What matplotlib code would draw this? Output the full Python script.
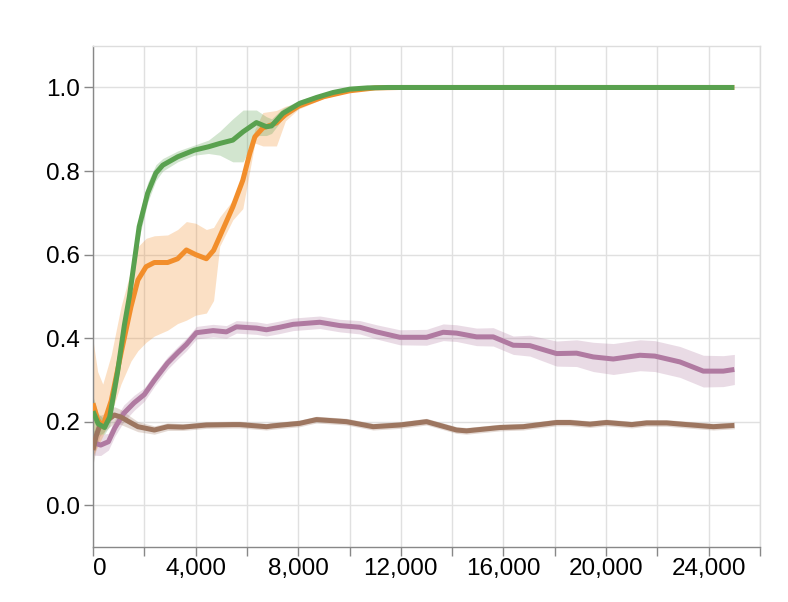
import matplotlib.pyplot as plt
import numpy as np

plt.rcParams['font.family'] = ['Liberation Sans', 'DejaVu Sans']

# green series (line + band bounds)
green_x = [0, 200, 450, 650, 960, 1220, 1420, 1800, 2130, 2450, 2720, 3300, 3950, 4500,
           4940, 5450, 5850, 6370, 6760, 6960, 7400, 8060, 8710, 9360, 10010, 10700, 11500, 25000]
green_y = [0.225, 0.195, 0.186, 0.211, 0.32, 0.43, 0.50, 0.667, 0.747, 0.795, 0.814, 0.834, 0.850, 0.858,
           0.866, 0.874, 0.894, 0.916, 0.906, 0.908, 0.938, 0.962, 0.976, 0.988, 0.996, 0.999, 1.0, 1.0]
green_lo = [0.17, 0.17, 0.17, 0.19, 0.29, 0.40, 0.47, 0.64, 0.725, 0.777, 0.80, 0.822, 0.838, 0.842,
            0.838, 0.822, 0.822, 0.885, 0.885, 0.89, 0.925, 0.952, 0.970, 0.984, 0.994, 0.998, 1.0, 1.0]
green_hi = [0.26, 0.22, 0.205, 0.235, 0.35, 0.46, 0.53, 0.695, 0.772, 0.815, 0.83, 0.848, 0.862, 0.874,
            0.895, 0.925, 0.946, 0.946, 0.93, 0.925, 0.95, 0.97, 0.982, 0.992, 0.998, 1.0, 1.0, 1.0]

# orange series
orange_x = [0, 180, 380, 710, 1090, 1480, 1750, 2070, 2390, 2910, 3300, 3640, 4000, 4420,
            4700, 4940, 5450, 5840, 6110, 6310, 6620, 7150, 7500, 8000, 9000, 10000, 11000, 12000, 25000]
orange_y = [0.244, 0.205, 0.188, 0.25, 0.363, 0.475, 0.539, 0.571, 0.581, 0.581, 0.59, 0.611, 0.60, 0.59,
            0.61, 0.643, 0.714, 0.778, 0.842, 0.882, 0.903, 0.915, 0.935, 0.955, 0.978, 0.992, 0.999, 1.0, 1.0]
orange_lo = [0.12, 0.14, 0.165, 0.22, 0.29, 0.345, 0.37, 0.39, 0.405, 0.419, 0.435, 0.443, 0.455, 0.46,
             0.49, 0.62, 0.683, 0.71, 0.80, 0.867, 0.86, 0.86, 0.92, 0.948, 0.974, 0.99, 0.998, 1.0, 1.0]
orange_hi = [0.395, 0.32, 0.29, 0.36, 0.475, 0.563, 0.619, 0.639, 0.645, 0.647, 0.66, 0.679, 0.675, 0.66,
             0.665, 0.69, 0.73, 0.786, 0.85, 0.90, 0.94, 0.945, 0.955, 0.962, 0.982, 0.994, 1.0, 1.0, 1.0]

# purple series
purple_x = [0, 300, 600, 850, 1200, 1600, 2000, 2400, 2900, 3300, 3640, 4030, 4680, 5200, 5590, 6370,
            6760, 7280, 7800, 8840, 9620, 10400, 11050, 11960, 13000, 13650, 14170, 14950, 15600,
            16380, 17030, 18070, 18850, 19500, 20280, 21320, 21900, 22880, 23790, 24570, 25000]
purple_y = [0.15, 0.144, 0.152, 0.185, 0.22, 0.245, 0.265, 0.30, 0.34, 0.365, 0.385, 0.413, 0.418, 0.415,
            0.427, 0.424, 0.42, 0.426, 0.433, 0.438, 0.43, 0.426, 0.415, 0.402, 0.402, 0.414, 0.412,
            0.403, 0.403, 0.383, 0.382, 0.363, 0.364, 0.355, 0.35, 0.359, 0.357, 0.343, 0.321, 0.321, 0.325]
purple_w = [0.03, 0.025, 0.02, 0.02, 0.02, 0.018, 0.016, 0.015, 0.015, 0.015, 0.015, 0.015, 0.015, 0.015,
            0.015, 0.015, 0.015, 0.015, 0.015, 0.015, 0.015, 0.016, 0.017, 0.018, 0.019, 0.02, 0.02,
            0.021, 0.022, 0.022, 0.025, 0.03, 0.032, 0.035, 0.037, 0.037, 0.037, 0.037, 0.038, 0.037, 0.036]

# brown series
brown_x = [0, 120, 260, 500, 830, 1090, 1400, 1750, 2390, 2910, 3510, 4420, 5450, 5720, 6760, 7020,
           8060, 8710, 9880, 10920, 11960, 13000, 14170, 14560, 15860, 16770, 18070, 18590, 19370,
           20020, 21000, 21580, 22360, 23140, 24180, 25000]
brown_y = [0.132, 0.165, 0.19, 0.2, 0.216, 0.211, 0.2, 0.188, 0.18, 0.188, 0.187, 0.192, 0.193, 0.193,
           0.188, 0.19, 0.196, 0.205, 0.2, 0.188, 0.192, 0.2, 0.18, 0.178, 0.186, 0.188, 0.198, 0.198,
           0.194, 0.198, 0.193, 0.197, 0.197, 0.193, 0.188, 0.191]
brown_w = [0.035, 0.03, 0.025, 0.02, 0.02, 0.018, 0.015, 0.012, 0.01, 0.009, 0.008, 0.008, 0.008, 0.008,
           0.008, 0.008, 0.008, 0.008, 0.008, 0.008, 0.008, 0.008, 0.008, 0.008, 0.008, 0.008, 0.008,
           0.008, 0.008, 0.008, 0.008, 0.008, 0.008, 0.008, 0.008, 0.008]

x_ticks = list(range(0, 26001, 2000))
y_ticks = [0.0, 0.2, 0.4, 0.6, 0.8, 1.0]

GREEN = '#59a14f'
ORANGE = '#f28e2b'
PURPLE = '#b07aa1'
BROWN = '#9d7660'

fig = plt.figure(figsize=(7.88, 6.02), dpi=100)
ax = fig.add_axes([93 / 788, 1 - 547 / 602, (760 - 93) / 788, (547 - 45.7) / 602])

bands = [
    (purple_x, np.array(purple_y) - np.array(purple_w), np.array(purple_y) + np.array(purple_w), PURPLE),
    (brown_x, np.array(brown_y) - np.array(brown_w), np.array(brown_y) + np.array(brown_w), BROWN),
    (orange_x, orange_lo, orange_hi, ORANGE),
    (green_x, green_lo, green_hi, GREEN),
]
for bx, lo, hi, c in bands:
    ax.fill_between(bx, lo, hi, color=c, alpha=0.27, linewidth=0, zorder=2)

lines = [(purple_x, purple_y, PURPLE), (brown_x, brown_y, BROWN),
         (orange_x, orange_y, ORANGE), (green_x, green_y, GREEN)]
for lx, ly, c in lines:
    ax.plot(lx, ly, color=c, lw=3.6, solid_capstyle='butt', solid_joinstyle='round', zorder=3)

ax.set_xlim(0, 26000)
ax.set_ylim(-0.1, 1.1)

ax.set_xticks(x_ticks, [f"{t:,}" if t % 4000 == 0 and t < 26000 else "" for t in x_ticks])
ax.set_yticks(y_ticks, [f"{t:.1f}" for t in y_ticks])
ax.get_xticklabels()[0].set_horizontalalignment('left')

ax.grid(True, color='#e0e0e0', lw=1, zorder=0)
ax.set_axisbelow(True)
ax.tick_params(axis='both', length=6.5, width=1, color='#888888', labelsize=17.5, labelcolor='black')
ax.tick_params(axis='x', pad=1.5)
ax.tick_params(axis='y', pad=3)

for side in ['left', 'bottom']:
    ax.spines[side].set_color('#888888')
    ax.spines[side].set_linewidth(1)
for side in ['top', 'right']:
    ax.spines[side].set_color('#dddddd')
    ax.spines[side].set_linewidth(1)

fig.savefig('out.png', dpi=100)
